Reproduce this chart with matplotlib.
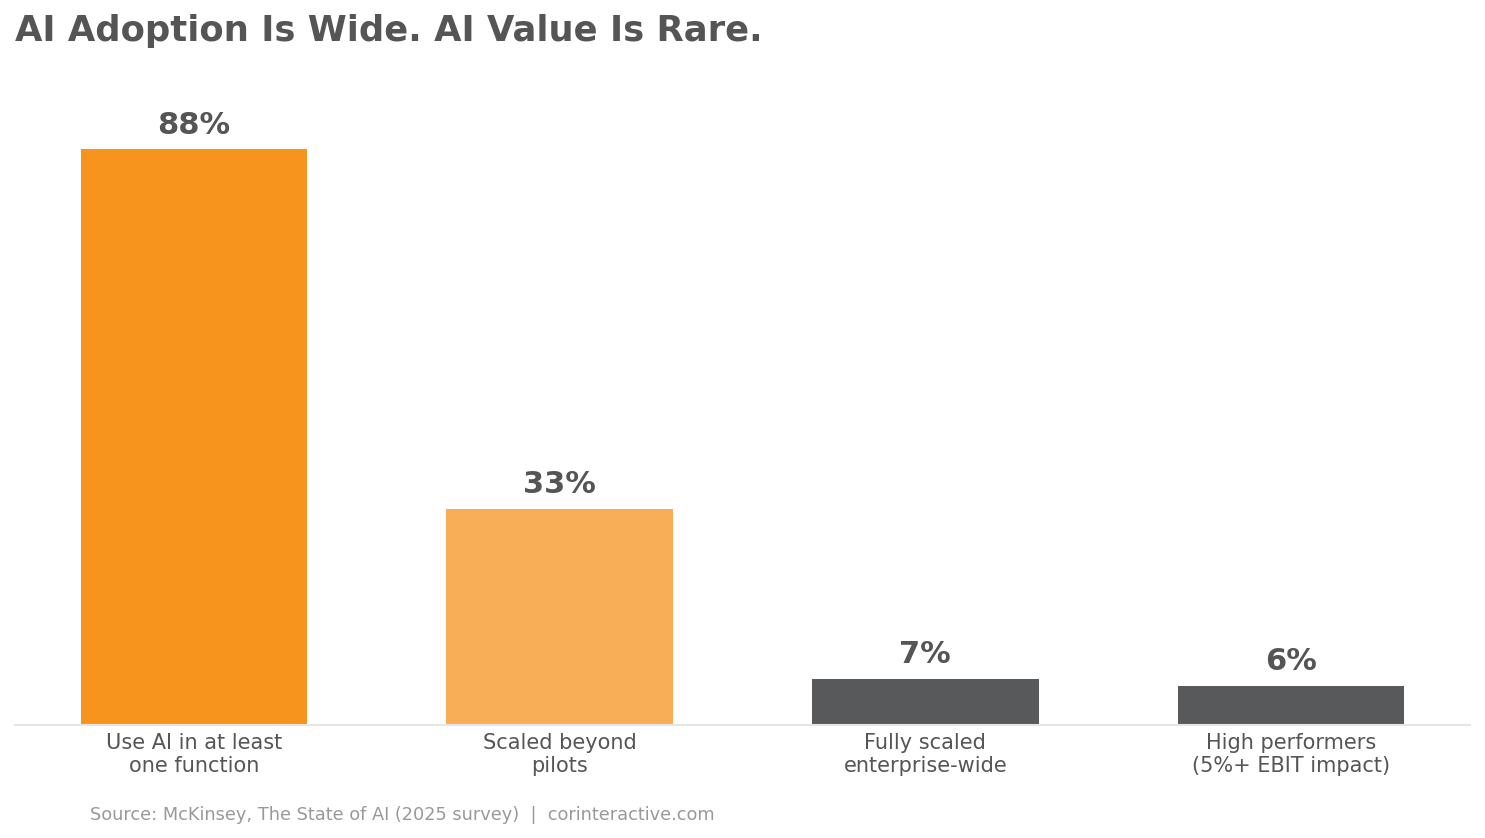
import matplotlib
matplotlib.use("Agg")
import matplotlib.pyplot as plt

categories = ["Use AI in at least\none function", "Scaled beyond\npilots",
              "Fully scaled\nenterprise-wide", "High performers\n(5%+ EBIT impact)"]
values = [88, 33, 7, 6]
value_labels = ["88%", "33%", "7%", "6%"]
colors = ["#F7941E", "#F8AE57", "#58595B", "#58595B"]

TEXT = "#555555"
fig = plt.figure(figsize=(14.85, 8.38), dpi=100)
ax = fig.add_axes([15/1485, 113/838, 1455/1485, 654/838])
x = list(range(len(values)))
ax.bar(x, values, width=0.62, color=colors, zorder=2)
for xi, v, lab in zip(x, values, value_labels):
    ax.annotate(lab, (xi, v), xytext=(0, 7), textcoords="offset points",
                ha="center", va="bottom", fontsize=22, fontweight="bold", color=TEXT)
ax.set_xlim(-0.49, 3.49)
ax.set_ylim(0, 100)
ax.set_xticks(x)
ax.set_xticklabels(categories, fontsize=15, color=TEXT, linespacing=1.15)
ax.tick_params(axis="x", length=0, pad=6)
ax.set_yticks([])
for s in ["top", "right", "left"]:
    ax.spines[s].set_visible(False)
ax.spines["bottom"].set_color("#e6e6e6")
ax.spines["bottom"].set_linewidth(1.5)

fig.text(15/1485, 1 - 31/838, "AI Adoption Is Wide. AI Value Is Rare.", fontsize=25.5,
         fontweight="bold", color=TEXT, ha="left", va="center")
fig.text(90/1485, 1 - 815/838, "Source: McKinsey, The State of AI (2025 survey)  |  corinteractive.com",
         fontsize=12.8, color="#999999", ha="left", va="center")
fig.savefig("out.png", dpi=100, facecolor="white")
